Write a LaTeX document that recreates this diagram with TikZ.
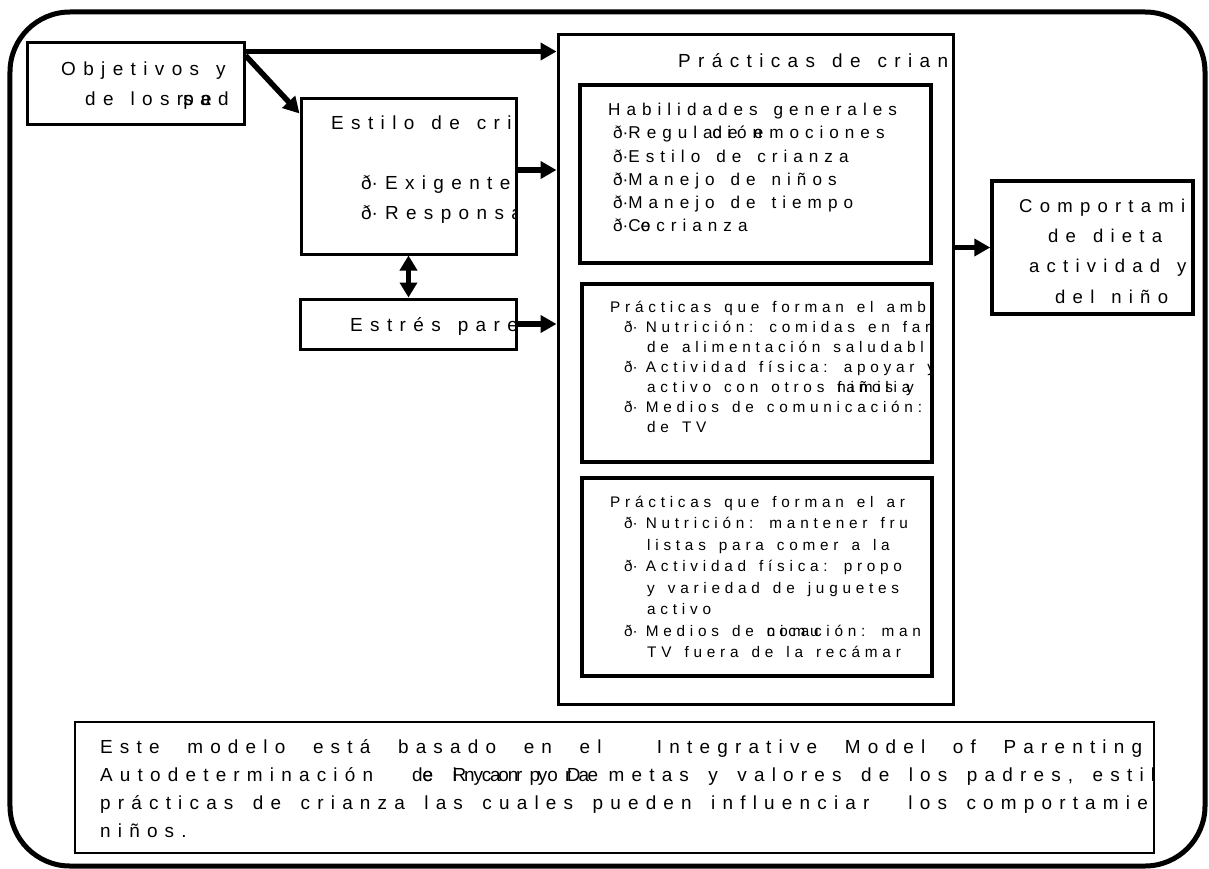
\documentclass[tikz,border=0pt]{standalone}
\usepackage{fontspec}
\setmainfont{Liberation Sans}
\newfontfamily\diafont[LetterSpace=39]{Liberation Sans}
\newfontfamily\habfont[LetterSpace=35]{Liberation Sans}
\newfontfamily\ambfont[LetterSpace=31]{Liberation Sans}
\newfontfamily\notafont[LetterSpace=38]{Liberation Sans}
\newfontfamily\bulfont{Liberation Sans}
\usetikzlibrary{positioning, arrows.meta, calc}

\newcommand{\bul}{{\bulfont ð·}}
\newcommand{\letragrande}{\diafont\fontsize{19}{30}\selectfont\spaceskip=17bp\relax}
\newcommand{\letracomp}{\diafont\fontsize{18.6}{30.3}\selectfont\spaceskip=17bp\relax}
\newcommand{\letramedia}{\habfont\fontsize{17.2}{23.3}\selectfont\spaceskip=16bp\relax}
\newcommand{\letrachica}{\ambfont\fontsize{15.4}{20}\selectfont\spaceskip=13bp\relax}
\newcommand{\letrachicab}{\ambfont\fontsize{15.4}{21.6}\selectfont\spaceskip=13bp\relax}
\newcommand{\letranota}{\notafont\fontsize{19}{28}\selectfont\spaceskip=19.5bp plus 40bp\relax}

\begin{document}
\begin{tikzpicture}[x=1bp, y=-1bp,
        caja/.style={draw, line width=3bp, inner sep=0pt},
        flecha/.style={line width=5.5bp, -{Triangle[length=16bp, width=17bp]}},
        texto/.style={anchor=base west, align=left, inner sep=0pt},
        grande/.style={font=\letragrande},
        media/.style={font=\letramedia},
        chica/.style={font=\letrachica}]
    \useasboundingbox (0,0) rectangle (1209,869);
    \node[draw, line width=5bp, rounded corners=60bp, minimum width=1195bp, minimum height=854bp] (marco) at (607.5,439) {};

    % cajas
    \node[caja, minimum width=216bp, minimum height=81bp] (obj) at (136,83.5) {};
    \node[caja, minimum width=215bp, minimum height=156bp] (estilo) at (408.5,176) {};
    \node[caja, minimum width=216bp, minimum height=50bp, below=42bp of estilo] (estres) {};
    \node[caja, minimum width=395bp, minimum height=669bp] (prac) at (755.5,369.5) {};
    \node[caja, line width=3.5bp, minimum width=351bp, minimum height=178bp] (habil) at (755.5,174) {};
    \node[caja, line width=3.5bp, minimum width=350bp, minimum height=178bp] (amb1) at (757,373) {};
    \node[caja, line width=4bp, minimum width=350bp, minimum height=198bp] (amb2) at (757,577) {};
    \node[caja, line width=3.5bp, minimum width=201bp, minimum height=133bp] (comp) at (1092.5,247.5) {};
    \node[caja, line width=1.5bp, minimum width=1079bp, minimum height=131bp] (nota) at (614.5,787.5) {};

    % textos (anclados en la base de la ultima linea, recortados por su caja)
    \begin{scope}
        \clip (obj.north west) rectangle (obj.south east);
        \node[texto, grande] (objtxt) at (61,105.5) {Objetivos y\\ \hspace*{24bp}de losr\rlap{pe}sad};
    \end{scope}
    \begin{scope}
        \clip (estilo.north west) rectangle (estilo.south east);
        \node[texto, grande] (estilotxt) at (331,219) {Estilo de cri\\[29.5bp]
            \hspace*{30bp}\bul\hspace{7bp}Exigente\\
            \hspace*{30bp}\bul\hspace{7bp}Responsa};
    \end{scope}
    \begin{scope}
        \clip (estres.north west) rectangle (estres.south east);
        \node[texto, grande] (estrestxt) at (350,331) {Estrés pare};
    \end{scope}
    \begin{scope}
        \clip (prac.north west) rectangle (prac.south east);
        \node[texto, grande] (practxt) at (678,67) {Prácticas de crian};
    \end{scope}
    \node[texto, media] (habiltxt) at (608,231.7) {Habilidades generales\\
        \hspace*{5bp}\bul Regula\rlap{ción}de emociones\\
        \hspace*{5bp}\bul Estilo de crianza\\
        \hspace*{5bp}\bul Manejo de niños\\
        \hspace*{5bp}\bul Manejo de tiempo\\
        \hspace*{5bp}\bul C\rlap{o}ecrianza};
    \begin{scope}
        \clip (amb1.north west) rectangle (amb1.south east);
        \node[texto, chica] (amb1txt) at (610,432) {Prácticas que forman el amb\\
            \hspace*{14bp}\bul\hspace{8bp}Nutrición: comidas en far\\
            \hspace*{37bp}de alimentación saludabl\\
            \hspace*{14bp}\bul\hspace{8bp}Actividad física: apoyar y\\
            \hspace*{37bp}activo con otros \rlap{niños y}familia\\
            \hspace*{14bp}\bul\hspace{8bp}Medios de comunicación:\\
            \hspace*{37bp}de TV};
    \end{scope}
    \begin{scope}
        \clip (amb2.north west) rectangle (amb2.south east);
        \node[texto, font=\letrachicab] (amb2txt) at (610,657.7) {Prácticas que forman el ar\\
            \hspace*{14bp}\bul\hspace{8bp}Nutrición: mantener fru\\
            \hspace*{37bp}listas para comer a la\\
            \hspace*{14bp}\bul\hspace{8bp}Actividad física: propo\\
            \hspace*{37bp}y variedad de juguetes\\
            \hspace*{37bp}activo\\
            \hspace*{14bp}\bul\hspace{8bp}Medios de \rlap{comu}nicación: man\\
            \hspace*{37bp}TV fuera de la recámar};
    \end{scope}
    \begin{scope}
        \clip (comp.north west) rectangle (comp.south east);
        \node[texto, font=\letracomp] (comptxt) at (1019,303) {Comportami\\
            \hspace*{29bp}de dieta\\
            \hspace*{10bp}actividad y\\
            \hspace*{36bp}del niño};
    \end{scope}
    \begin{scope}
        \clip (nota.north west) rectangle (nota.south east);
        \node[texto, font=\letranota] (notatxt) at (100,837) {\makebox[1042bp][s]{Este modelo está basado en el\ \ Integrative Model of Parenting}\\
            Autodeterminación\ \ d\rlap{e}e \rlap{Ryan y De}incorpora metas y valores de los padres, estil\\
            prácticas de crianza las cuales pueden influenciar\ \ los comportamie\\
            niños.};
    \end{scope}

    % flechas
    \coordinate (o1) at ($(obj.north east)+(0,10)$);
    \coordinate (o2) at ($(obj.north east)+(0,14)$);
    \coordinate (e1) at ($(estilo.east)+(0,-6)$);
    \draw[flecha] (o1) -- (o1 -| prac.west);
    \draw[flecha] (o2) -- ($(estilo.north west)+(0,17)$);
    \draw[flecha] (e1) -- (e1 -| prac.west);
    \draw[flecha, {Triangle[length=15bp, width=17bp]}-{Triangle[length=15bp, width=17bp]}] (estilo.south) -- (estres.north);
    \draw[flecha] (estres.east) -- (estres.east -| prac.west);
    \draw[flecha] (comp.west -| prac.east) -- (comp.west);
\end{tikzpicture}
\end{document}
